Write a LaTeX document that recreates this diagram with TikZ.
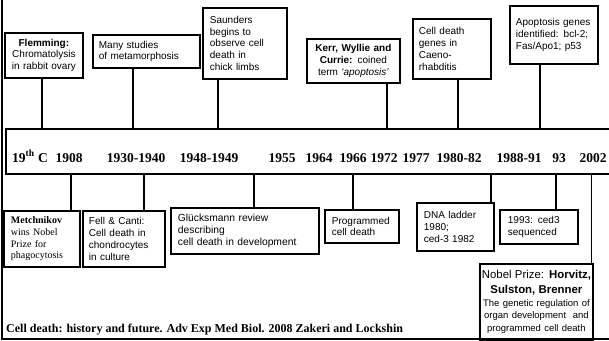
\documentclass[tikz,border=0pt]{standalone}
\usepackage{fontspec}
\setmainfont{Liberation Serif}
\setsansfont{Liberation Sans}
\begin{document}
\begin{tikzpicture}[x=1pt,y=-1pt,
  box/.style={draw, line width=1.8pt, anchor=north west, inner ysep=1pt,
    font=\sffamily\fontsize{10}{11.7}\selectfont, align=left},
  conn/.style={line width=1.5pt},
  yr/.style={font=\bfseries\fontsize{13.5}{15}\selectfont, inner sep=0pt, anchor=base},
  frame/.style={line width=2pt}]
\useasboundingbox (0,0) rectangle (609,340);
% outer frame (left and bottom)
\coordinate (ftop) at (1.5,0);
\coordinate (fbl) at (1.5,338.5);
\coordinate (fbr) at (612,338.5);
\draw[frame] (ftop) -- (fbl) -- (fbr);
% timeline band
\node[draw, line width=1.8pt, anchor=north west, minimum width=612pt, minimum height=45pt, inner sep=0pt] (tl) at (5,128) {};
% years
\node[yr] (y1) at (30,162) {19\textsuperscript{th} C};
\node[yr] (y2) at (69,162) {1908};
\node[yr] (y3) at (136,162) {1930-1940};
\node[yr] (y4) at (209,162) {1948-1949};
\node[yr] (y5) at (282,162) {1955};
\node[yr] (y6) at (319,162) {1964};
\node[yr] (y7) at (353,162) {1966};
\node[yr] (y8) at (384,162) {1972};
\node[yr] (y9) at (416,162) {1977};
\node[yr] (y10) at (459,162) {1980-82};
\node[yr] (y11) at (519,162) {1988-91};
\node[yr] (y12) at (559,162) {93};
\node[yr] (y13) at (593,162) {2002};
% upper boxes
\node[box, align=center, text width=68pt, inner xsep=5pt, minimum height=45pt] (flem) at (4,32)
  {\textbf{Flemming:}\\Chromatolysis\\in rabbit ovary};
\node[box, text width=95pt, inner xsep=6pt, minimum height=33pt] (many) at (92,34)
  {Many studies\\of metamorphosis};
\node[box, text width=70pt, inner xsep=7pt, minimum height=71pt] (saund) at (202,7)
  {Saunders\\begins to\\observe cell\\death in\\chick limbs};
\node[box, align=center, text width=85pt, inner xsep=4pt, minimum height=44pt] (kerr) at (306,38)
  {\textbf{Kerr, Wyllie and}\\\textbf{Currie:} coined\\term \textit{‘apoptosis’}};
\node[box, text width=66pt, inner xsep=6pt, minimum height=60pt] (cdg) at (412,18)
  {Cell death\\genes in\\Caeno-\\rhabditis};
\node[box, text width=76pt, inner xsep=6pt, minimum height=58pt] (apg) at (509,5)
  {Apoptosis genes\\identified: bcl-2;\\Fas/Apo1; p53\\[9pt]};
% lower boxes
\node[box, font=\rmfamily\fontsize{10}{11.7}\selectfont, text width=62pt, inner xsep=7pt, minimum height=56pt] (metch) at (3,210)
  {\textbf{Metchnikov}\\wins Nobel\\Prize for\\phagocytosis};
\node[box, text width=70pt, inner xsep=6pt, minimum height=56pt] (fell) at (82,210)
  {Fell \& Canti:\\Cell death in\\chondrocytes\\in culture};
\node[box, font=\sffamily\fontsize{10.3}{11.7}\selectfont, text width=134pt, inner xsep=7pt, minimum height=46pt] (gluck) at (170,207)
  {Glücksmann review\\describing\\cell death in development};
\node[box, text width=60pt, inner xsep=7pt, minimum height=33pt] (prog) at (324,209)
  {Programmed\\cell death};
\node[box, text width=63pt, inner xsep=7pt, minimum height=48pt] (dna) at (416,202)
  {DNA ladder\\1980;\\ced-3 1982};
\node[box, text width=62pt, inner xsep=8pt, minimum height=34pt] (s1993) at (499,209)
  {1993: ced3\\sequenced};
\node[box, align=center, text width=111pt, inner xsep=1pt, inner ysep=0pt, minimum height=76pt] (nobel) at (479,263)
  {{\fontsize{11.4}{15}\selectfont \mbox{Nobel Prize: \textbf{Horvitz,}}\\\mbox{\textbf{Sulston, Brenner}}\par}
   {\fontsize{9.5}{12.8}\selectfont The genetic regulation of\\organ development\ \ and\\programmed cell death\par}};
% citation
\node[anchor=base west, inner sep=0pt, font=\bfseries\fontsize{12}{14}\selectfont] (cite) at (6,332)
  {Cell death: history and future. Adv Exp Med Biol. 2008 Zakeri and Lockshin};
% connector x positions
\coordinate (c1) at (42,0);
\coordinate (c2) at (133,0);
\coordinate (c3) at (218,0);
\coordinate (c4) at (387,0);
\coordinate (c5) at (458,0);
\coordinate (c6) at (540,0);
\coordinate (d1) at (71,0);
\coordinate (d2) at (144,0);
\coordinate (d3) at (254,0);
\coordinate (d4) at (353,0);
\coordinate (d5) at (491,0);
\coordinate (d6) at (556,0);
\coordinate (d7) at (591.5,0);
\draw[conn] (flem.south -| c1) -- (tl.north -| c1);
\draw[conn] (many.south -| c2) -- (tl.north -| c2);
\draw[conn] (saund.south -| c3) -- (tl.north -| c3);
\draw[conn] (kerr.south -| c4) -- (tl.north -| c4);
\draw[conn] (cdg.south -| c5) -- (tl.north -| c5);
\draw[conn] (apg.south -| c6) -- (tl.north -| c6);
\draw[conn] (tl.south -| d1) -- (metch.north -| d1);
\draw[conn] (tl.south -| d2) -- (fell.north -| d2);
\draw[conn] (tl.south -| d3) -- (gluck.north -| d3);
\draw[conn] (tl.south -| d4) -- (prog.north -| d4);
\draw[conn] (tl.south -| d5) -- (dna.north -| d5);
\draw[conn] (tl.south -| d6) -- (s1993.north -| d6);
\draw[conn] (tl.south -| d7) -- (nobel.north -| d7);
\end{tikzpicture}
\end{document}
